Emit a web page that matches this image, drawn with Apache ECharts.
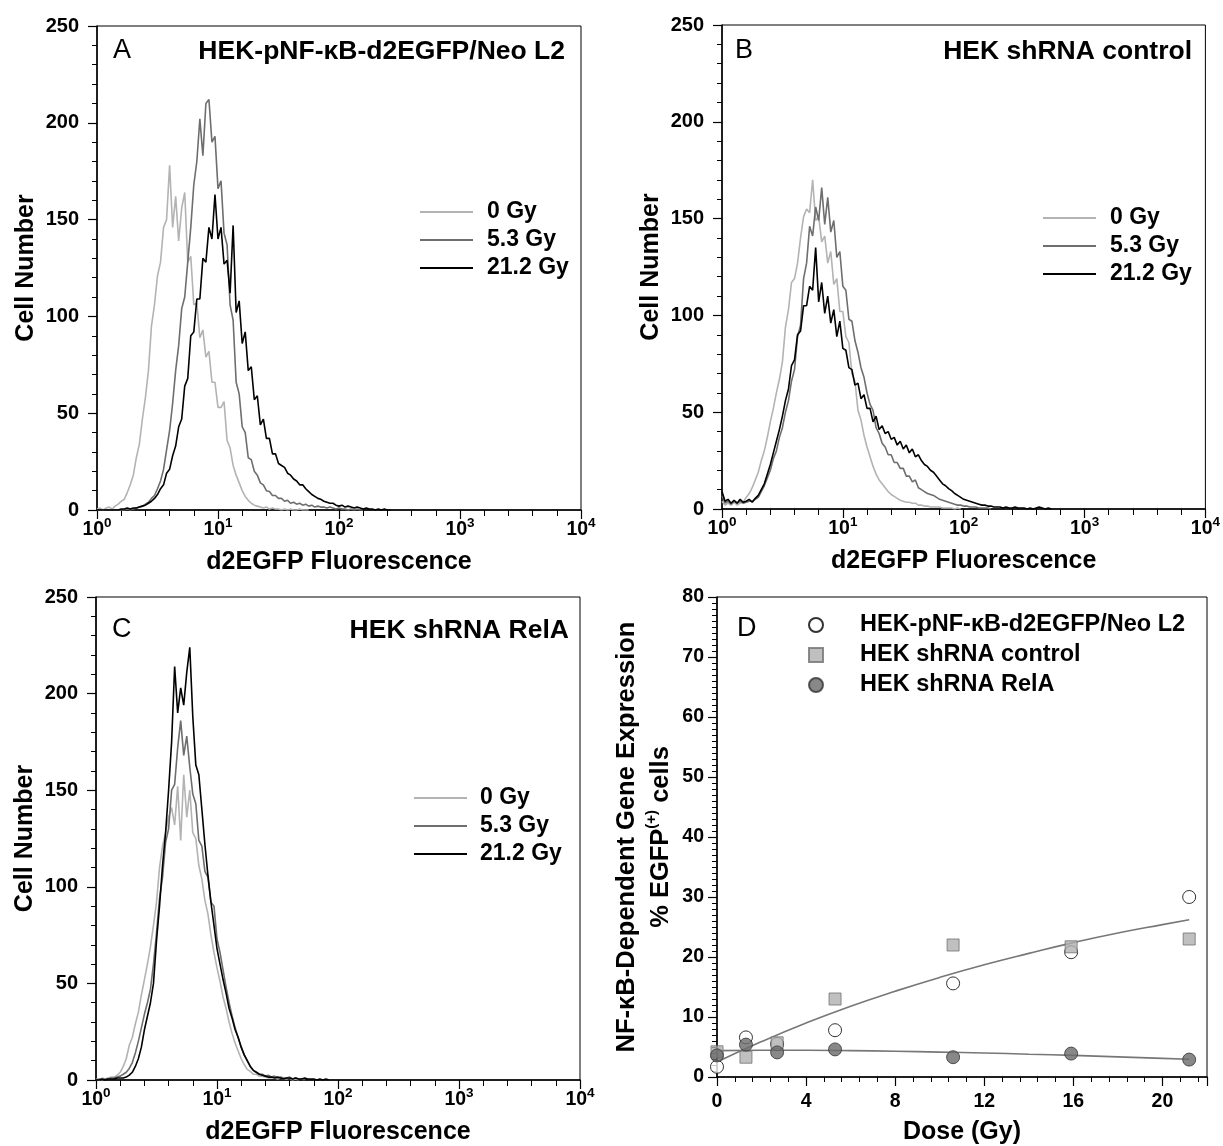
<!DOCTYPE html>
<html><head><meta charset="utf-8">
<script src="https://cdn.jsdelivr.net/npm/echarts@6/dist/echarts.min.js"></script>
<style>html,body{margin:0;padding:0;background:#fff}#c{width:1223px;height:1146px}</style>
</head><body><div id="c"></div>
<script>
// ---------- data ----------
const channelStep = 0.025;            // decades per histogram channel (x starts at 10^0)
const decadeTicks = [0, 1, 2, 3, 4];  // exponent of 10 for tick labels
const doseLabels = ['0 Gy', '5.3 Gy', '21.2 Gy'];

// Panel A: HEK-pNF-kB-d2EGFP/Neo L2
const histA_0 = [0.5,1,0,1,1.5,0.5,2,3,4.5,5.5,9,13,18,27,34,47,58,72,95,106,121,128,146,150,178,146,162,139,156,164,128,131,106,107,89,93,79,82,66,66,53,53,56,36,32,23,18,14,10,7,5,3.5,2.5,2,1.5,1,1.5,0.5,1,0.5,0.5,0,0.5,0,0.5,0,0,0.5,0,0,0];
const histA_5 = [0,0,0,0,0,0,0,0,0,0,0.5,0,0.5,1,1.5,2,3,4,6,7.5,11,15,21,31,41,55,72,85,104,110,128,146,168,180,202,183,210,212,190,193,166,170,143,137,106,98,66,60,43,40,27,26,20,18,14,13,10,9.5,7.5,7.5,6,6,4.5,5,3.5,4,3,3.5,2.5,3,2,2.5,1.5,2,1.5,1.5,1,1.5,1,0.5,1,0.5,0.5,0,0.5,0,0.5,0,0];
const histA_21 = [0,0,0,0,0,0,0,0,0.5,0.5,1,0.5,1,1,1.5,2,2.5,3.5,4.5,6,8,11,13,19,21,28,33,43,47,64,68,90,92,109,109,130,128,146,140,163,140,146,127,129,112,147,102,108,86,92,72,74,57,59,44,47,37,37,29,29,24,23,22,19,18,16,15,13,13,11,9.5,8,7,6,5.5,4.5,4,3.5,3.5,2.5,2,2.5,1.5,2,1.5,1,1.5,1,0.5,1,0.5,0.5,0,0.5,0,0.5,0,0];

// Panel B: HEK shRNA control
const histB_0 = [4,2,3,2,3.5,2,3,3.5,6,8,11,15,19,25,30,37,45,52,60,67,76,94,103,117,119,127,140,151,155,153,170,149,151,138,141,127,133,116,119,102,102,89,86,70,66,51,46,38,32,27,22,18,15,13,11,9,7.5,6.5,5.5,4.5,4,3.5,3.5,3,3,2,2,1.5,1.5,1,1,1,1,0.5,0.5,0.5,0.5,0,0.5,0];
const histB_5 = [7,3,4,2.5,4,3,4,3,3.5,4,4,5,6,9,12,16,20,26,30,37,42,50,56,66,72,89,95,119,127,146,141,156,149,166,147,161,143,149,130,133,115,113,98,97,87,81,73,68,60,54,51,42,39,34,32,28,28,24,24,21,21,17,17,14,15,11,10,9,8,7.5,7,6,5,4.5,4,3.5,3,2.5,2,2,1.5,1.5,1,1,1,0.5,0.5,0.5,0.5,0];
const histB_21 = [9,4,5,3,4.5,3,5,3.5,4,5,3.5,5.5,7,10,13,18,23,29,35,41,48,56,62,74,77,90,92,105,105,115,113,135,107,117,101,110,96,103,89,97,83,82,73,72,64,65,57,59,52,52,45,48,41,43,39,40,36,37,33,35,31,33,29,31,27,28,25,23,22,20,19,17,15,13,12,10.5,9.5,8,7,6,5,4.5,4,3.5,3,2.5,2,2,1.5,1.5,1,1,1,0.5,1,0.5,0.5,1,0.5,0.5,0.5,0,0.5,0,0.5,1,0.5,0,0.5,0];

// Panel C: HEK shRNA RelA
const histC_0 = [0.5,0,1,0.5,1,1.5,1.5,2.5,4,7,11,18,22,29,35,44,52,60,69,80,92,110,121,128,136,141,132,152,124,158,136,150,128,125,111,104,93,86,75,66,58,51,43,37,30,24,19,15,11,8,5.5,4.5,3,3,2,2,1.5,1,1,1.5,0.5,1,0.5,0.5,1,0,0.5,0];
const histC_5 = [0,0.5,0,0.5,0.5,1,1,1.5,2,3,4,6,9,14,20,27,34,40,47,60,76,94,105,123,130,150,153,172,186,168,178,162,148,143,124,121,108,105,92,90,73,66,57,48,40,33,27,22,17,13,10,7,5,4,3,3,2,2.5,1.5,2,1,1.5,1,1,1.5,0.5,1,0.5,0.5,0];
const histC_21 = [0,0,0.5,0,0.5,0.5,0.5,1,1,1,1.5,2.5,4,7,11,17,26,33,40,50,72,90,111,128,150,175,214,190,203,194,211,224,188,163,158,140,122,106,92,80,68,60,52,45,37,32,26,22,17,13,10,7,5,4,3,2.5,2,1.5,1.5,1,1.5,1,0.5,1,1,0.5,1,0.5,0.5,1,0.5,0.5,0.5,0,0.5,0,0.5,0];

// Panel D: % EGFP(+) cells vs dose
const doseGy = [0, 1.3, 2.7, 5.3, 10.6, 15.9, 21.2];
const neoL2Pct = [1.7, 6.6, 5.5, 7.8, 15.6, 20.8, 30.0];
const shCtrlPct = [4.2, 3.3, 5.7, 13.0, 22.0, 21.7, 23.0];
const shRelAPct = [3.6, 5.4, 4.1, 4.6, 3.3, 3.9, 2.9];
const fitDose = [0, 2, 4, 6, 8, 10, 12, 14, 16, 18, 20, 21.2];
const fitUpper = [2.5, 5.9, 9.0, 11.8, 14.3, 16.6, 18.7, 20.6, 22.4, 24.0, 25.4, 26.2];
const fitLower = [4.4, 4.45, 4.45, 4.4, 4.3, 4.15, 4.0, 3.8, 3.6, 3.35, 3.1, 2.95];
const dNames = ['HEK-pNF-\u03BAB-d2EGFP/Neo L2', 'HEK shRNA control', 'HEK shRNA RelA'];

// ---------- chart ----------
const FONT = '"Liberation Sans", Arial, Helvetica, sans-serif';
const C_LIGHT = '#b3b3b3', C_MID = '#6e6e6e', C_DARK = '#000000';
const chart = echarts.init(document.getElementById('c'), null, {renderer: 'canvas'});

const grids = [
  {left: 97, top: 26, width: 484, height: 484},
  {left: 722, top: 25, width: 484, height: 484},
  {left: 96, top: 597, width: 484, height: 484},
  {left: 717, top: 597, width: 490, height: 484}
].map(g => Object.assign(g, {show: true, borderColor: '#000', borderWidth: 1, backgroundColor: 'transparent'}));

const lblFont = {fontFamily: FONT, fontWeight: 'bold', color: '#000'};

function logXAxis(gi) {
  return {
    gridIndex: gi, type: 'value', min: 0, max: 4, interval: 1,
    axisLine: {show: true, onZero: false, lineStyle: {color: '#000', width: 1.5}},
    axisTick: {show: true, length: 9, lineStyle: {color: '#000', width: 1.2}},
    minorTick: {show: true, splitNumber: 5, length: 6, lineStyle: {color: '#000', width: 1}},
    splitLine: {show: false}, minorSplitLine: {show: false},
    axisLabel: {
      margin: 6,
      formatter: v => '{b|10}{s|' + decadeTicks[Math.round(v)] + '}',
      rich: {
        b: Object.assign({fontSize: 19.5, lineHeight: 28}, lblFont),
        s: Object.assign({fontSize: 13.5, lineHeight: 13, verticalAlign: 'top'}, lblFont)
      }
    },
    name: 'd2EGFP Fluorescence', nameLocation: 'middle', nameGap: 40,
    nameTextStyle: Object.assign({fontSize: 25}, lblFont)
  };
}
function cellYAxis(gi) {
  return {
    gridIndex: gi, type: 'value', min: 0, max: 250, interval: 50,
    axisLine: {show: true, onZero: false, lineStyle: {color: '#000', width: 1.5}},
    axisTick: {show: true, length: 9, lineStyle: {color: '#000', width: 1.2}},
    minorTick: {show: true, splitNumber: 5, length: 5, lineStyle: {color: '#000', width: 1}},
    splitLine: {show: false}, minorSplitLine: {show: false},
    axisLabel: Object.assign({margin: 18, fontSize: 20}, lblFont),
    name: 'Cell Number', nameLocation: 'middle', nameGap: 58,
    nameTextStyle: Object.assign({fontSize: 25}, lblFont)
  };
}

const xAxes = [logXAxis(0), logXAxis(1), logXAxis(2),
  {
    gridIndex: 3, type: 'value', min: 0, max: 22, interval: 4,
    axisLine: {show: true, onZero: false, lineStyle: {color: '#000', width: 1.5}},
    axisTick: {show: true, length: 9, lineStyle: {color: '#000', width: 1.2}},
    splitLine: {show: false},
    axisLabel: Object.assign({margin: 15, fontSize: 19.5, formatter: v => (v % 4 === 0 ? String(v) : '')}, lblFont),
    name: 'Dose (Gy)', nameLocation: 'middle', nameGap: 43,
    nameTextStyle: Object.assign({fontSize: 25}, lblFont)
  },
  {
    gridIndex: 3, type: 'value', min: 0, max: 22, interval: 0.8, position: 'bottom',
    axisLine: {show: false}, axisLabel: {show: false}, splitLine: {show: false},
    axisTick: {show: true, length: 5, lineStyle: {color: '#000', width: 1}}
  }
];
const yAxes = [cellYAxis(0), cellYAxis(1), cellYAxis(2),
  {
    gridIndex: 3, type: 'value', min: 0, max: 80, interval: 10,
    axisLine: {show: true, onZero: false, lineStyle: {color: '#000', width: 1.5}},
    axisTick: {show: true, length: 9, lineStyle: {color: '#000', width: 1.2}},
    minorTick: {show: true, splitNumber: 10, length: 5, lineStyle: {color: '#000', width: 1}},
    splitLine: {show: false}, minorSplitLine: {show: false},
    axisLabel: Object.assign({margin: 13, fontSize: 19.5}, lblFont),
    name: 'NF-\u03BAB-Dependent Gene Expression\n% EGFP{sup|(+)} cells',
    nameLocation: 'middle', nameGap: 38,
    nameTextStyle: Object.assign({fontSize: 25.5, lineHeight: 34,
      rich: {sup: Object.assign({fontSize: 15, lineHeight: 15, verticalAlign: 'top'}, lblFont)}}, lblFont)
  }
];

function hist(values, gi, name, color, z) {
  return {
    type: 'line', name: name, xAxisIndex: gi, yAxisIndex: gi,
    data: values.map((v, i) => [i * channelStep, v]),
    symbol: 'none', showSymbol: false, clip: true, z: z,
    lineStyle: {color: color, width: 1.6}, itemStyle: {color: color},
    silent: true
  };
}

const series = [];
[[histA_0, histA_5, histA_21], [histB_0, histB_5, histB_21], [histC_0, histC_5, histC_21]].forEach((set, gi) => {
  series.push(hist(set[0], gi, doseLabels[0], C_LIGHT, 2));
  series.push(hist(set[1], gi, doseLabels[1], C_MID, 3));
  series.push(hist(set[2], gi, doseLabels[2], C_DARK, 4));
});
series.push({type: 'line', name: 'fitUpper', xAxisIndex: 3, yAxisIndex: 3, smooth: true, symbol: 'none',
  data: fitDose.map((d, i) => [d, fitUpper[i]]), lineStyle: {color: '#777', width: 1.6}, z: 2, silent: true});
series.push({type: 'line', name: 'fitLower', xAxisIndex: 3, yAxisIndex: 3, smooth: true, symbol: 'none',
  data: fitDose.map((d, i) => [d, fitLower[i]]), lineStyle: {color: '#777', width: 1.6}, z: 2, silent: true});
series.push({type: 'scatter', name: dNames[0], xAxisIndex: 3, yAxisIndex: 3, symbol: 'circle', symbolSize: 13,
  data: doseGy.map((d, i) => [d, neoL2Pct[i]]), itemStyle: {color: '#fff', borderColor: '#000', borderWidth: 1}, z: 3});
series.push({type: 'scatter', name: dNames[1], xAxisIndex: 3, yAxisIndex: 3, symbol: 'rect', symbolSize: 12,
  data: doseGy.map((d, i) => [d, shCtrlPct[i]]), itemStyle: {color: '#b0b0b0', borderColor: '#707070', borderWidth: 1}, z: 4});
series.push({type: 'scatter', name: dNames[2], xAxisIndex: 3, yAxisIndex: 3, symbol: 'circle', symbolSize: 13,
  data: doseGy.map((d, i) => [d, shRelAPct[i]]), itemStyle: {color: '#6a6a6a', borderColor: '#333', borderWidth: 1}, z: 5});

function doseLegend(left, top, padLeft) {
  return {
    data: doseLabels, orient: 'vertical', left: left, top: top, padding: 0,
    icon: 'rect', itemWidth: 53, itemHeight: 2, itemGap: 4, selectedMode: false,
    textStyle: Object.assign({fontSize: 23, lineHeight: 24, padding: [0, 0, 0, padLeft]}, lblFont)
  };
}

const titleStyle = (size, weight) => ({fontSize: size, fontWeight: weight, fontFamily: FONT, color: '#000'});
const titles = [
  {text: 'A', left: 113, top: 37, textStyle: titleStyle(27, 'normal')},
  {text: 'HEK-pNF-\u03BAB-d2EGFP/Neo L2', right: 658, top: 38, textStyle: titleStyle(26.5, 'bold')},
  {text: 'B', left: 735, top: 37, textStyle: titleStyle(27, 'normal')},
  {text: 'HEK shRNA control', right: 31, top: 38, textStyle: titleStyle(26.5, 'bold')},
  {text: 'C', left: 112, top: 616, textStyle: titleStyle(27, 'normal')},
  {text: 'HEK shRNA RelA', right: 654, top: 617, textStyle: titleStyle(26.5, 'bold')},
  {text: 'D', left: 737, top: 615, textStyle: titleStyle(27, 'normal')}
].map(t => Object.assign(t, {padding: 0}));

chart.setOption({
  animation: false,
  backgroundColor: '#fff',
  title: titles,
  grid: grids,
  xAxis: xAxes,
  yAxis: yAxes,
  legend: [
    doseLegend(420, 200, 9),
    doseLegend(1043, 206, 9),
    doseLegend(414, 786, 8),
    {
      data: dNames, orient: 'vertical', left: 808, top: 612, padding: 0,
      itemWidth: 14, itemHeight: 14, itemGap: 4, selectedMode: false,
      textStyle: Object.assign({fontSize: 23.5, lineHeight: 26, padding: [0, 0, 0, 32]}, lblFont)
    }
  ],
  series: series
});
</script>
</body></html>
